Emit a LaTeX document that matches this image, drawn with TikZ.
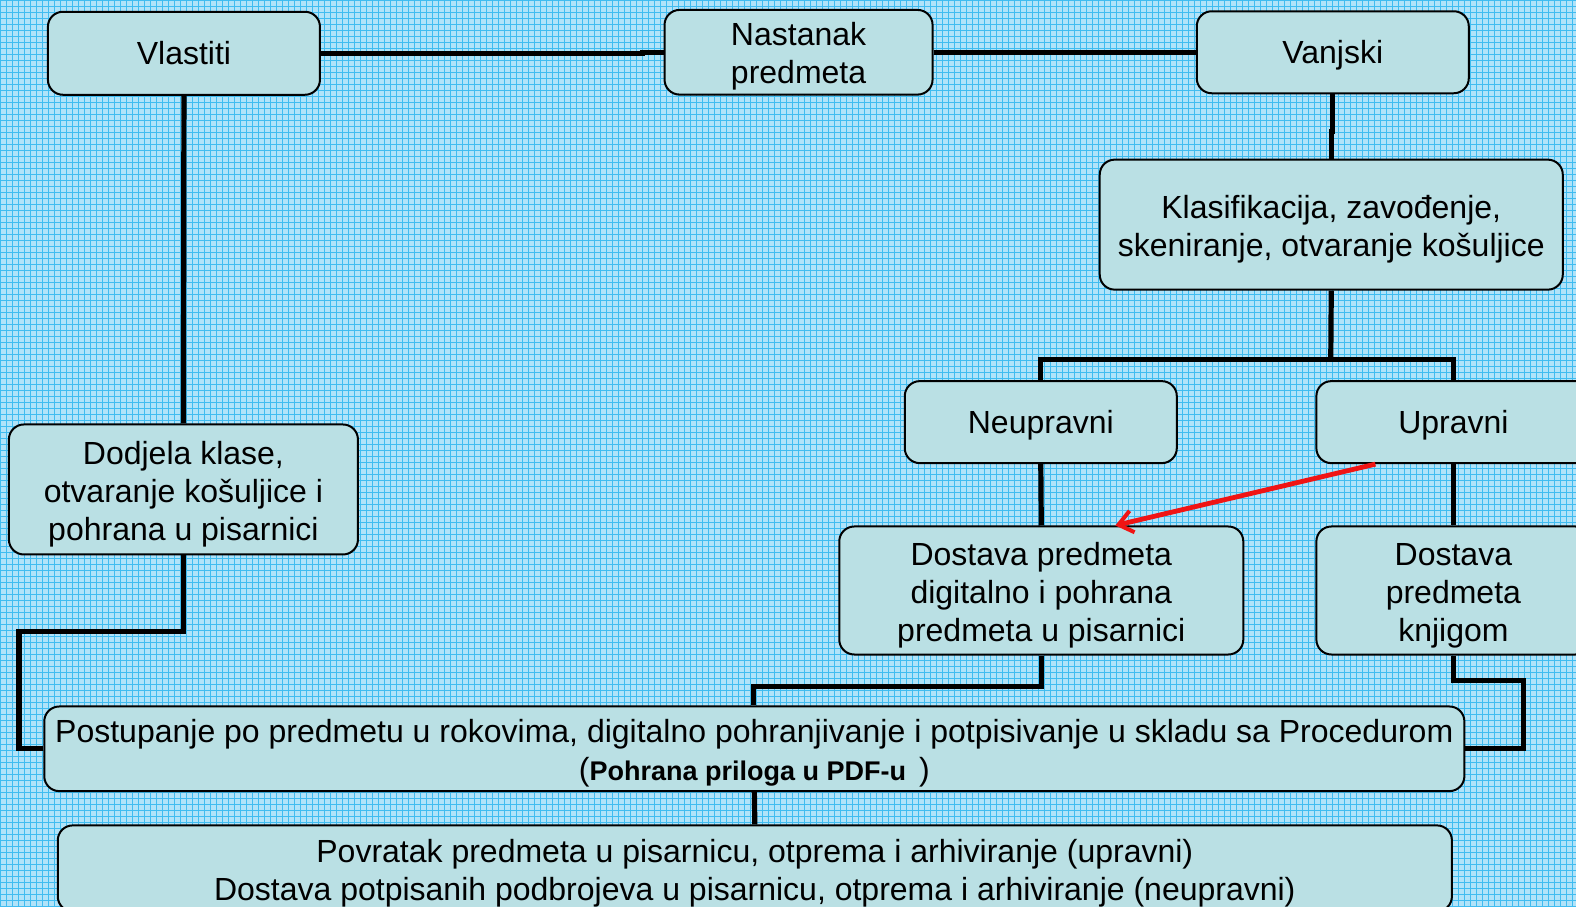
\documentclass[tikz,border=0pt]{standalone}
\usepackage{fontspec}
\setmainfont{Liberation Sans}
\usetikzlibrary{arrows.meta,positioning}
\definecolor{gridbg}{RGB}{176,227,249}
\definecolor{gridline}{RGB}{64,188,240}
\definecolor{boxfill}{RGB}{186,224,228}
\definecolor{flowred}{RGB}{240,20,20}
% pushes the first line of a multi-line box down a little
\newcommand{\toppad}{\rule{0pt}{16pt}}

\begin{document}
\begin{tikzpicture}[
    x=0.5025pt, y=-0.5025pt,
    box/.style={draw=black, line width=1pt, fill=boxfill, rounded corners=7.5pt, align=center, inner sep=2pt, font=\fontsize{16}{19}\selectfont},
    oneline/.style={text depth=0pt},
    link/.style={draw=black, line width=2.6pt},
    redarrow/.style={draw=flowred, line width=2.4pt, -{Straight Barb[length=7pt, width=11pt, line width=2pt]}},
    >=Stealth
]
\path[use as bounding box, clip] (0,0) rectangle (1568,901.5);
% background grid
\fill[gridbg] (0,0) rectangle (1568,901.5);
\draw[gridline, line width=0.45pt, step=3pt] (0,0) grid (1568,901.5);

\node[box, oneline, minimum width=136pt, minimum height=41.5pt] (vlast) at (183,53) {Vlastiti};
\node[box, minimum width=134pt, minimum height=41pt] (nast) at (794.5,52) {\toppad Nastanak\\predmeta};
\node[box, oneline, minimum width=136pt, minimum height=41pt] (vanj) at (1326,52) {Vanjski};
\node[box, minimum width=231.5pt, minimum height=65pt] (klas) at (1324.5,223.5) {\toppad Klasifikacija, zavođenje,\\skeniranje, otvaranje košuljice};
\node[box, oneline, minimum width=136pt, minimum height=41pt] (neupr) at (1035.5,420) {Neupravni};
\node[box, oneline, minimum width=137pt, minimum height=41pt] (upr) at (1446,420) {Upravni};
\node[box, minimum width=174.5pt, minimum height=65pt] (dodj) at (182.5,487) {\toppad Dodjela klase,\\otvaranje košuljice i\\pohrana u pisarnici};
\node[box, minimum width=202pt, minimum height=64pt] (dostdig) at (1036,587.5) {\toppad Dostava predmeta\\digitalno i pohrana\\predmeta u pisarnici};
\node[box, minimum width=137pt, minimum height=64pt] (dostknj) at (1446,587.5) {\toppad Dostava\\predmeta\\knjigom};
\node[box, minimum width=710pt, minimum height=41pt] (post) at (750.5,745) {\toppad Postupanje po predmetu u rokovima, digitalno pohranjivanje i potpisivanje u skladu sa Procedurom\\(\textbf{\fontsize{13.5}{19}\selectfont Pohrana priloga u PDF-u }\,)};
\node[box, minimum width=697pt, minimum height=43pt] (povr) at (751,864) {\toppad Povratak predmeta u pisarnicu, otprema i arhiviranje (upravni)\\Dostava potpisanih podbrojeva u pisarnicu, otprema i arhiviranje (neupravni)};

\coordinate (split) at (1324,358);
\coordinate (lbend) at (19,628);
\coordinate (dbend) at (750,683);
\coordinate (rbend) at (1516,677);

\draw[link] (vlast.east) -- ++(320,0) |- (nast.west);
\draw[link] (nast.east) -- (vanj.west);
\draw[link] (vanj.south) -- ++(0,37) -| (klas.north);
\draw[link] (vlast.south) -- (dodj.north);
\draw[link] (klas.south) -- (split);
\draw[link] (neupr.north) -- (neupr.north |- split) -- (upr.north |- split) -- (upr.north);
\draw[link] (neupr.south) -- (dostdig.north);
\draw[link] (upr.south) -- (dostknj.north);
\draw[link] (dodj.south) |- (lbend) |- (post.west);
\draw[link] (dostdig.south) |- (dbend) -- (dbend |- post.north);
\draw[link] (dostknj.south) |- (rbend) |- (post.east);
\draw[link] (post.south) -- (povr.north);
\draw[redarrow] ([xshift=-39pt]upr.south) -- ([xshift=37pt]dostdig.north);
\end{tikzpicture}
\end{document}
